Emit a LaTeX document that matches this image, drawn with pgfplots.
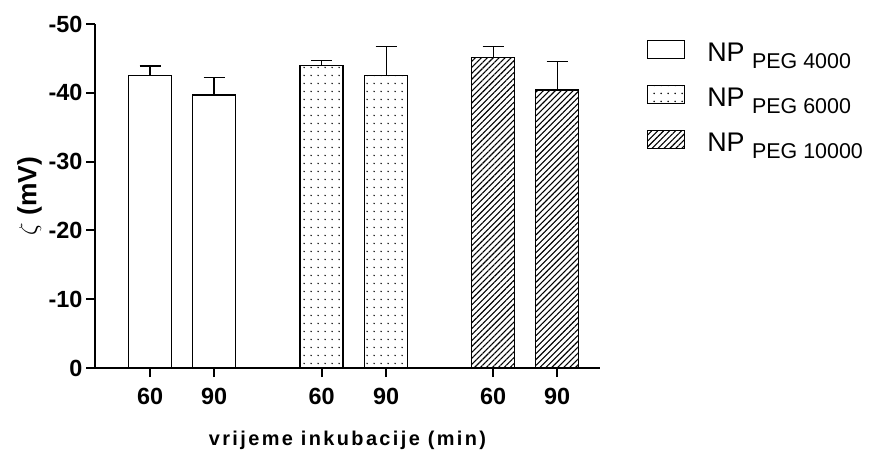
\documentclass[border=0pt]{standalone}
\usepackage{fontspec}
\setmainfont{Liberation Sans}
\usepackage{pgfplots}
\pgfplotsset{compat=1.18}
\usetikzlibrary{patterns,patterns.meta}

% sparse dots like the original fill
\tikzdeclarepattern{
  name=sdots,
  type=uncolored,
  bottom left={(0bp,0bp)},
  top right={(7bp,7.5bp)},
  tile size={(7bp,7.5bp)},
  code={\fill (3.5bp,3.75bp) circle (0.9bp);}
}

\begin{document}
\begin{tikzpicture}
\begin{axis}[
  at={(95bp,82bp)}, anchor=south west,
  scale only axis, width=505bp, height=344bp,
  y dir=reverse,
  ymin=-50, ymax=0,
  xmin=0.14, xmax=8.03,
  ybar, bar shift=0pt, bar width=43bp,
  axis x line*=bottom, axis y line*=left,
  axis line style={line width=2.2bp, black},
  tick align=outside, major tick length=9bp,
  tick style={line width=2bp, black},
  ytick={0,-10,-20,-30,-40,-50},
  yticklabels={0,-10,-20,-30,-40,-50},
  xtick={1,2,3.68,4.69,6.36,7.36},
  xticklabels={60,90,60,90,60,90},
  tick label style={font=\fontsize{23.5}{24}\selectfont\bfseries},
  xticklabel style={yshift=-8bp},
  ylabel={$\zeta$ \textbf{(mV)}},
  ylabel style={font=\fontsize{26.5}{28}\selectfont},
  xlabel={vrijeme inkubacije (min)},
  xlabel style={font=\fontsize{20}{21}\selectfont\bfseries\addfontfeature{LetterSpace=12}, yshift=-19bp},
  every axis plot/.append style={draw=black, line width=1.3bp},
  error bars/y dir=minus, error bars/y explicit,
  error bars/error mark=|,
  error bars/error bar style={line width=1.2bp, black},
  error bars/error mark options={black, line width=1.2bp, mark size=10.5bp},
  legend cell align=left,
  legend style={draw=none, fill=none, inner sep=0pt, outer sep=0pt,
    at={(1.093,0.973)}, anchor=north west,
    nodes={inner sep=0pt, text height=28bp, text depth=17bp},
    row sep=0pt,
    /tikz/every odd column/.append style={column sep=22bp}},
  legend image code/.code={\draw[#1, line width=1.3bp] (0bp,-3bp) rectangle (37bp,15bp);},
]
\addplot[fill=white] coordinates {(1,-42.5) +- (0,1.4) (2,-39.7) +- (0,2.5)};
\addplot[pattern=sdots] coordinates {(3.68,-44.0) +- (0,0.7) (4.69,-42.5) +- (0,4.2)};
\addplot[pattern={Lines[angle=45, distance=4.2bp, line width=1.1bp]}] coordinates {(6.36,-45.1) +- (0,1.6) (7.36,-40.4) +- (0,4.2)};
\legend{
  {\fontsize{27}{28}\selectfont NP\ {\fontsize{21.5}{22}\selectfont\raisebox{-7bp}{PEG 4000}}},
  {\fontsize{27}{28}\selectfont NP\ {\fontsize{21.5}{22}\selectfont\raisebox{-7bp}{PEG 6000}}},
  {\fontsize{27}{28}\selectfont NP\ {\fontsize{21.5}{22}\selectfont\raisebox{-7bp}{PEG 10000}}}}
\end{axis}
\pgfresetboundingbox
\path[use as bounding box] (0bp,0bp) rectangle (869bp,450bp);
\end{tikzpicture}
\end{document}
